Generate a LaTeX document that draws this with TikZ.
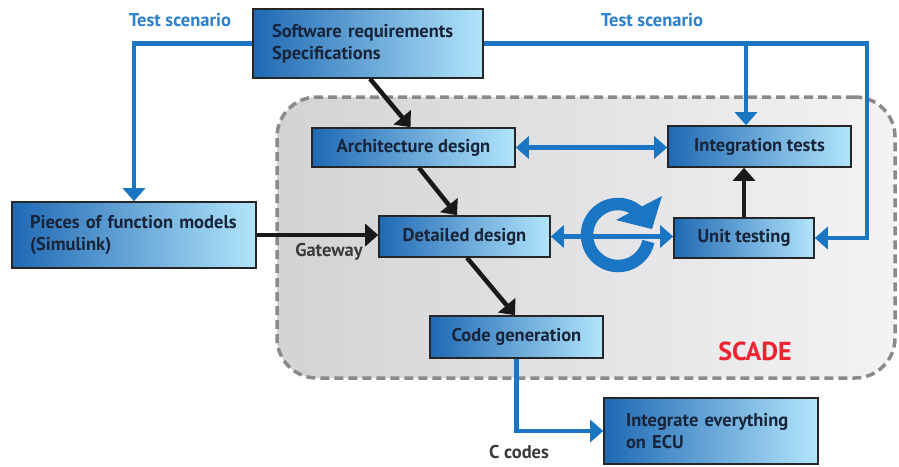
\documentclass[tikz,border=0pt]{standalone}
\usepackage{fontspec}
\setmainfont{PT Sans}
\usetikzlibrary{arrows.meta,calc}
\definecolor{bl}{HTML}{1A76C2}
\definecolor{lbl}{HTML}{2B80D0}
\definecolor{boxL}{HTML}{1F69B4}
\definecolor{boxM}{HTML}{78BDEA}
\definecolor{boxR}{HTML}{B2E5FB}
\definecolor{txt}{HTML}{18243A}
\definecolor{grayL}{HTML}{D3D3D6}
\definecolor{grayR}{HTML}{F3F3F5}
\definecolor{dashc}{HTML}{8A8A8A}
\definecolor{scade}{HTML}{EE2230}
\definecolor{lab}{HTML}{3A3A3A}
\tikzset{
  boxnode/.style={draw=black!85, line width=1.6pt, left color=boxL, middle color=boxM, right color=boxR,
    text=txt, font=\bfseries\fontsize{18.5}{22}\selectfont, inner sep=0pt},
  blueline/.style={draw=bl, line width=4.4pt},
  bluearrow/.style={blueline, -{Triangle[width=22pt,length=13pt]}},
  bluedouble/.style={blueline, {Triangle[width=22pt,length=13pt]}-{Triangle[width=22pt,length=13pt]}},
  blackarrow/.style={draw=black!90, line width=4.5pt, -{Triangle[width=22pt,length=13pt]}},
  lblnode/.style={font=\bfseries\fontsize{18.5}{22}\selectfont, inner sep=0pt},
}
\begin{document}
\begin{tikzpicture}[x=1pt,y=-1pt]
\useasboundingbox (0,0) rectangle (899,466);
% SCADE area
\node[draw=dashc, line width=3.5pt, dash pattern=on 9pt off 5pt, rounded corners=40pt,
  left color=grayL, right color=grayR, minimum width=618pt, minimum height=281pt, inner sep=0pt]
  (scadearea) at (586,237.5) {};
\node[font=\bfseries\fontsize{26}{28}\selectfont, text=scade, inner sep=0pt] (scadelbl) at (755,351) {SCADE};
% boxes
\node[boxnode, minimum height=69pt, text width=192pt, inner xsep=19pt, align=left] (srs) at (368,43.5)
  {Software requirements\\Specifications};
\node[boxnode, minimum width=203pt, minimum height=39pt] (arch) at (413.5,147.5) {Architecture design};
\node[boxnode, minimum width=183pt, minimum height=41pt] (integ) at (759.5,146.5) {Integration tests};
\node[boxnode, minimum height=66pt, text width=208pt, inner xsep=18pt, align=left] (pieces) at (134,235)
  {Pieces of function models\\(Simulink)};
\node[boxnode, minimum width=171pt, minimum height=41pt] (detailed) at (464.5,236.5) {Detailed design};
\node[boxnode, minimum width=140pt, minimum height=40pt] (unit) at (744,238) {Unit testing};
\node[boxnode, minimum width=173pt, minimum height=42pt] (codegen) at (516.5,337) {Code generation};
\node[boxnode, minimum height=66pt, text width=170pt, inner xsep=22pt, align=left] (ecu) at (711,431)
  {Integrate everything\\on ECU};
% labels
\node[lblnode, text=lbl] (tsl) at (180,20) {Test scenario};
\node[lblnode, text=lbl] (tsr) at (652,20) {Test scenario};
\node[lblnode, text=lab] (gw) at (329,252) {Gateway};
\node[lblnode, text=lab] (cc) at (519,452) {C codes};
% blue connectors
\coordinate (tr) at (867,43.5);
\coordinate (br) at (746,43.5);
\draw[bluearrow] (srs.west) -| (pieces.north);
\draw[bluearrow] (srs.east) -- (tr) |- (unit.east);
\draw[bluearrow] (br) -- (br |- integ.north);
\draw[bluedouble] (arch.east) -- (arch.east -| integ.west);
\draw[bluedouble] (detailed.east) -- (detailed.east -| unit.west);
\draw[bluearrow] (codegen.south) |- (ecu.west);
% cycle icon
\coordinate (cyc) at (618,235);
\draw[draw=bl, line width=12.5pt] (cyc) ++(-12:31pt) arc[start angle=-12, end angle=-318, radius=31pt];
\fill[bl] (616,220) -- (662,196) -- (652,229) -- cycle;
% black connectors
\draw[blackarrow] ($(srs.south)+(2,0)$) -- ($(arch.north)+(-3,0)$);
\draw[blackarrow] ($(arch.south)+(5.5,0)$) -- ($(detailed.north)+(-7.5,0)$);
\draw[blackarrow] ($(detailed.south)+(2.5,0)$) -- ($(codegen.north)+(-1.5,0)$);
\draw[blackarrow] (pieces.east) -- (pieces.east -| detailed.west);
\draw[blackarrow] (unit.north) -- (unit.north |- integ.south);
\end{tikzpicture}
\end{document}
